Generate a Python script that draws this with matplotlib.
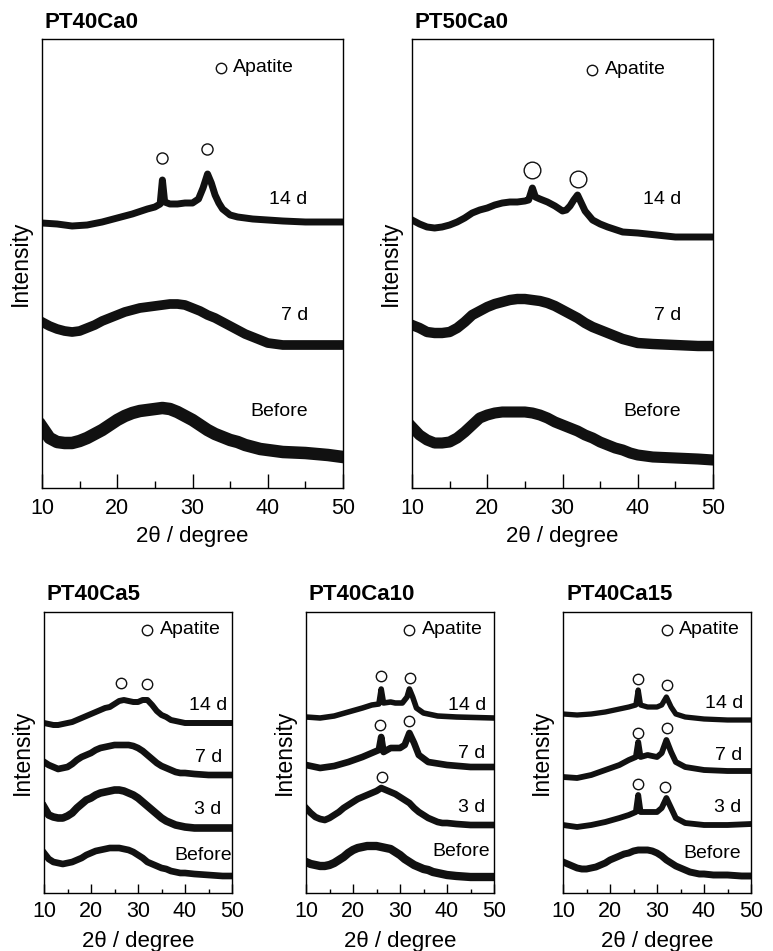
import matplotlib
matplotlib.use('Agg')
import matplotlib.pyplot as plt
from matplotlib.ticker import MultipleLocator

plt.rcParams['font.family'] = ['Liberation Sans', 'DejaVu Sans']

# shared 2theta grid for the smooth halo curves
grid = [10, 11, 12, 13, 14, 15, 16, 17, 18, 19, 20, 21, 22, 23, 24, 25, 26, 27, 28, 29,
        30, 31, 32, 33, 34, 35, 36, 37, 38, 39, 40, 42, 45, 48, 50]

# ---- PT40Ca0 (heights in a.u., axis 0..449) ----
pt40ca0_14d_x = [10, 12, 14, 16, 18, 20, 22, 24, 25, 25.7, 26.0, 26.3, 27, 28, 29, 30, 30.8, 31.4, 32.0, 32.5,
                 33, 33.5, 34, 35, 36, 38, 40, 42, 45, 50]
pt40ca0_14d_y = [265, 264, 262, 263, 266, 270, 274, 279, 281, 284, 308, 286, 284, 284, 285, 285, 289, 300, 314, 305,
                 293, 285, 279, 273, 271, 269, 268, 267, 266, 266]
pt40ca0_7d_y = [166, 162, 159, 157, 156, 157, 160, 163, 167, 170, 173, 176, 178, 180, 181, 182, 183, 184, 184, 183,
                180, 177, 173, 170, 166, 162, 158, 154, 151, 148, 145, 143, 143, 143, 143]
pt40ca0_before_y = [61, 50, 46, 45, 45, 47, 50, 54, 58, 63, 68, 72, 75, 77, 78, 79, 80, 79, 76, 72,
                    68, 63, 58, 54, 51, 48, 46, 43, 41, 39, 38, 36, 35, 33, 31]

# ---- PT50Ca0 ----
pt50ca0_14d_x = [10, 11, 12, 13, 14, 15, 16, 17, 18, 19, 20, 21, 22, 23, 24, 25, 25.5, 26.0, 26.4, 27, 28, 29,
                 30, 30.5, 31, 31.5, 32.0, 32.5, 33, 34, 35, 36, 38, 40, 45, 50]
pt50ca0_14d_y = [268, 264, 261, 260, 261, 263, 266, 270, 275, 278, 280, 283, 285, 286, 286, 287, 288, 300, 291, 289,
                 286, 282, 277, 278, 282, 288, 293, 285, 277, 268, 264, 261, 256, 255, 251, 251]
pt50ca0_7d_y = [163, 160, 156, 155, 155, 156, 160, 166, 173, 177, 181, 184, 186, 188, 189, 189, 188, 187, 185, 182,
                178, 174, 170, 165, 161, 158, 155, 152, 149, 147, 145, 144, 143, 142, 142]
pt50ca0_before_y = [61, 53, 48, 45, 45, 46, 50, 56, 63, 70, 73, 75, 76, 76, 76, 76, 75, 73, 70, 66,
                    63, 60, 57, 53, 50, 46, 43, 40, 38, 35, 33, 31, 30, 29, 28]

# ---- PT40Ca5 (axis 0..281) ----
pt40ca5_14d_y = [170, 169, 168, 168, 169, 170, 171, 173, 175, 177, 179, 181, 183, 185, 186, 189, 192, 193, 192, 191,
                 191, 193, 193, 188, 182, 178, 176, 173, 172, 171, 170, 170, 170, 170, 170]
pt40ca5_7d_y = [131, 128, 126, 124, 125, 126, 129, 133, 136, 138, 140, 143, 145, 146, 147, 148, 148, 148, 148, 147,
                145, 142, 138, 134, 130, 127, 125, 123, 121, 120, 120, 119, 118, 118, 118]
pt40ca5_3d_y = [86, 78, 76, 75, 75, 77, 80, 85, 89, 93, 95, 98, 100, 101, 102, 103, 103, 102, 100, 98,
                95, 91, 87, 83, 79, 75, 72, 70, 68, 67, 66, 65, 65, 65, 65]
pt40ca5_before_y = [40, 34, 31, 30, 29, 30, 31, 33, 35, 38, 40, 42, 43, 44, 45, 45, 45, 44, 43, 41,
                    38, 35, 31, 29, 27, 25, 24, 22, 21, 20, 20, 19, 18, 17, 17]

# ---- PT40Ca10 ----
pt40ca10_14d_x = [10, 13, 16, 19, 22, 24, 25.5, 26.0, 26.5, 28, 29, 30.5, 31.5, 32.0, 32.7, 33.5, 35, 38, 42, 50]
pt40ca10_14d_y = [176, 175, 177, 181, 185, 188, 189, 204, 190, 191, 190, 190, 196, 204, 196, 185, 180, 177, 176, 175]
pt40ca10_7d_x = [10, 13, 16, 19, 22, 24, 25.5, 26.0, 26.5, 28, 30, 31, 32.0, 33, 34, 36, 40, 45, 50]
pt40ca10_7d_y = [128, 125, 127, 131, 136, 140, 143, 156, 141, 145, 145, 148, 160, 150, 138, 131, 128, 126, 126]
pt40ca10_3d_y = [85, 80, 76, 74, 73, 75, 78, 81, 85, 88, 91, 94, 96, 98, 100, 102, 105, 103, 101, 99,
                 96, 93, 90, 85, 81, 78, 75, 73, 71, 70, 70, 69, 68, 68, 68]
pt40ca10_before_y = [31, 29, 28, 27, 27, 28, 30, 33, 36, 40, 43, 45, 46, 47, 47, 47, 46, 45, 44, 41,
                     38, 34, 31, 28, 26, 24, 23, 21, 20, 19, 18, 17, 16, 16, 16]

# ---- PT40Ca15 ----
pt40ca15_x = [10, 13, 16, 19, 22, 24, 25.5, 26.0, 26.5, 28, 30, 31, 32.0, 33, 34, 36, 40, 45, 50]
pt40ca15_14d_y = [179, 178, 179, 181, 184, 186, 188, 203, 188, 186, 186, 188, 196, 186, 179, 176, 174, 173, 173]
pt40ca15_7d_y = [116, 115, 118, 123, 128, 133, 136, 151, 136, 138, 136, 140, 153, 141, 131, 126, 123, 122, 122]
pt40ca15_3d_y = [68, 66, 68, 71, 75, 78, 81, 98, 81, 81, 81, 85, 95, 85, 75, 70, 68, 68, 69]
pt40ca15_before_y = [31, 29, 27, 25, 24, 24, 25, 26, 28, 30, 33, 35, 37, 39, 40, 42, 43, 43, 43, 42,
                     40, 37, 33, 30, 27, 25, 23, 21, 20, 19, 19, 18, 18, 17, 17]

# apatite peak markers (2theta, height)
mark_40ca0 = ([26.0, 31.9], [330, 339])
mark_50ca0 = ([26.0, 32.0], [318, 309])
mark_40ca5 = ([26.4, 31.9], [210, 209])
mark_40ca10 = ([25.96, 32.1, 25.7, 31.9, 26.1], [217, 215, 168, 172, 116])
mark_40ca15 = ([25.9, 32.06, 25.9, 32.06, 26.0, 31.7], [214, 208, 160, 165, 109, 106])

W, H = 773, 951
fig = plt.figure(figsize=(W / 100, H / 100), dpi=100)
col = '#111111'
fs = 15.5      # tick labels
fs_lab = 16    # axis labels
fs_ann = 14    # curve labels / legend


def make_ax(left, top, w, h):
    ax = fig.add_axes([left / W, (H - top - h) / H, w / W, h / H])
    ax.set_xlim(10, 50)
    ax.set_ylim(0, h)
    ax.set_yticks([])
    for s in ax.spines.values():
        s.set_linewidth(1.0)
    return ax


def dress(ax, title, big):
    w = 301 if big else 188
    ax.xaxis.set_major_locator(MultipleLocator(10))
    ax.xaxis.set_minor_locator(MultipleLocator(5))
    if big:
        ax.tick_params(which='major', direction='in', length=10, width=1, pad=7, labelsize=fs, top=False)
        ax.tick_params(which='minor', direction='in', length=5, width=1, top=False)
        ax.set_xlabel('2θ / degree', fontsize=fs_lab, labelpad=5)
    else:
        ax.tick_params(which='major', direction='in', length=6.5, width=1, pad=6, labelsize=fs, top=False)
        ax.tick_params(which='minor', direction='in', length=3, width=1, top=False)
        ax.set_xlabel('2θ / degree', fontsize=fs_lab, labelpad=6)
    ax.set_ylabel('Intensity', fontsize=16.5)
    ax.yaxis.set_label_coords(-22 / w, 0.5)
    ax.yaxis.label.set_verticalalignment('center')
    ax.annotate(title, xy=(0, 1), xycoords='axes fraction', xytext=(3, 17),
                textcoords='offset pixels', ha='left', va='center', fontsize=16, fontweight='bold')


def apatite(ax, mx, my, ms, lx, ly, tx):
    ax.plot(mx, my, 'o', ms=ms, mfc='white', mec=col, mew=1.0, ls='none')
    ax.plot([lx], [ly], 'o', ms=7.5, mfc='white', mec=col, mew=1.0, ls='none')
    ax.text(tx, ly, 'Apatite', fontsize=fs_ann, ha='left', va='center')


# top-left
ax = make_ax(42, 39, 301, 449)
ax.plot(pt40ca0_14d_x, pt40ca0_14d_y, color=col, lw=5)
ax.plot(grid, pt40ca0_7d_y, color=col, lw=7)
ax.plot(grid, pt40ca0_before_y, color=col, lw=9)
apatite(ax, *mark_40ca0, 8, 33.75, 420, 35.4)
for lab, x, y in [('14 d', 45.2, 288), ('7 d', 45.35, 173), ('Before', 45.3, 76)]:
    ax.text(x, y, lab, fontsize=fs_ann, ha='right', va='center')
dress(ax, 'PT40Ca0', True)

# top-right
ax = make_ax(412, 39, 301, 449)
ax.plot(pt50ca0_14d_x, pt50ca0_14d_y, color=col, lw=5)
ax.plot(grid, pt50ca0_7d_y, color=col, lw=7.5)
ax.plot(grid, pt50ca0_before_y, color=col, lw=8)
apatite(ax, *mark_50ca0, 12, 33.96, 418, 35.6)
for lab, y in [('14 d', 288), ('7 d', 173), ('Before', 76)]:
    ax.text(45.8, y, lab, fontsize=fs_ann, ha='right', va='center')
dress(ax, 'PT50Ca0', True)

# bottom row
ax = make_ax(44, 612, 188, 281)
ax.plot(grid, pt40ca5_14d_y, color=col, lw=4.3)
ax.plot(grid, pt40ca5_7d_y, color=col, lw=4.8)
ax.plot(grid, pt40ca5_3d_y, color=col, lw=5.5)
ax.plot(grid, pt40ca5_before_y, color=col, lw=4.8)
apatite(ax, *mark_40ca5, 7.5, 31.85, 263, 34.6)
for lab, x, y in [('14 d', 48.9, 188), ('7 d', 48.0, 136), ('3 d', 47.8, 83), ('Before', 49.9, 38)]:
    ax.text(x, y, lab, fontsize=fs_ann, ha='right', va='center')
dress(ax, 'PT40Ca5', False)

ax = make_ax(306, 612, 188, 281)
ax.plot(pt40ca10_14d_x, pt40ca10_14d_y, color=col, lw=4)
ax.plot(pt40ca10_7d_x, pt40ca10_7d_y, color=col, lw=4.8)
ax.plot(grid, pt40ca10_3d_y, color=col, lw=4.8)
ax.plot(grid, pt40ca10_before_y, color=col, lw=6)
apatite(ax, *mark_40ca10, 7.5, 32.0, 263, 34.6)
for lab, x, y in [('14 d', 48.4, 188), ('7 d', 48.2, 139), ('3 d', 48.1, 86), ('Before', 49.1, 41)]:
    ax.text(x, y, lab, fontsize=fs_ann, ha='right', va='center')
dress(ax, 'PT40Ca10', False)

ax = make_ax(563, 612, 188, 281)
ax.plot(pt40ca15_x, pt40ca15_14d_y, color=col, lw=3.8)
ax.plot(pt40ca15_x, pt40ca15_7d_y, color=col, lw=4.2)
ax.plot(pt40ca15_x, pt40ca15_3d_y, color=col, lw=4.2)
ax.plot(grid, pt40ca15_before_y, color=col, lw=5)
apatite(ax, *mark_40ca15, 7.5, 32.06, 263, 34.7)
for lab, x, y in [('14 d', 48.3, 189), ('7 d', 48.1, 138), ('3 d', 48.0, 86), ('Before', 47.8, 39)]:
    ax.text(x, y, lab, fontsize=fs_ann, ha='right', va='center')
dress(ax, 'PT40Ca15', False)

fig.savefig('out.png', dpi=100)
